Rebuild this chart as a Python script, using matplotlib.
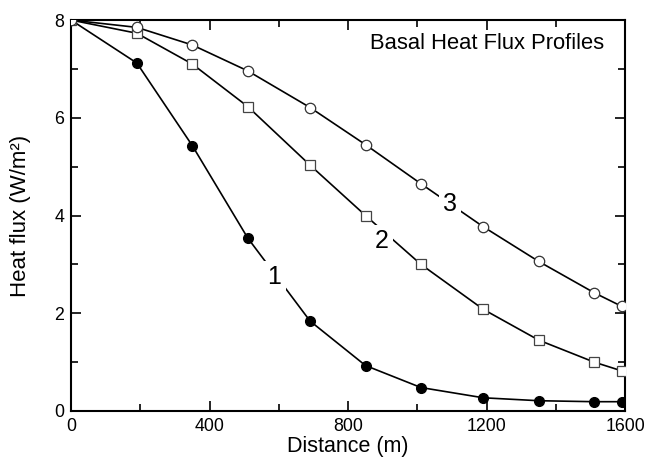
import matplotlib
matplotlib.use("Agg")
import matplotlib.pyplot as plt
from matplotlib.ticker import MultipleLocator

plt.rcParams['font.family'] = ['Liberation Sans', 'DejaVu Sans']

distance = [0, 190, 350, 510, 690, 850, 1010, 1190, 1350, 1510, 1590]
flux1 = [8.0, 7.12, 5.43, 3.54, 1.84, 0.93, 0.48, 0.27, 0.21, 0.19, 0.19]
flux2 = [8.0, 7.73, 7.10, 6.23, 5.03, 4.00, 3.00, 2.08, 1.45, 1.00, 0.82]
flux3 = [8.0, 7.85, 7.49, 6.96, 6.21, 5.45, 4.65, 3.77, 3.06, 2.42, 2.14]
labels = ["1", "2", "3"]
label_pos = [(587, 2.74), (898, 3.48), (1094, 4.23)]

fig = plt.figure(figsize=(6.46, 4.61), dpi=100)
ax = fig.add_axes([0.110, 0.1085, 0.858, 0.848])

ax.plot(distance, flux1, color='black', lw=1.2, marker='o', ms=7,
        mfc='black', mec='black', zorder=3)
ax.plot(distance, flux2, color='black', lw=1.2, marker='s', ms=7,
        mfc='white', mec='#444444', mew=0.9, zorder=3)
ax.plot(distance, flux3, color='black', lw=1.2, marker='o', ms=7.5,
        mfc='white', mec='#333333', mew=0.9, zorder=3)

for lab, (lx, ly) in zip(labels, label_pos):
    ax.text(lx, ly, lab, fontsize=18, ha='center', va='center', zorder=4,
            bbox=dict(facecolor='white', edgecolor='none', pad=3))

ax.text(0.962, 0.94, "Basal Heat Flux Profiles", transform=ax.transAxes,
        ha='right', va='center', fontsize=15.8)

ax.set_xlim(0, 1600)
ax.set_ylim(0, 8)
ax.xaxis.set_major_locator(MultipleLocator(400))
ax.xaxis.set_minor_locator(MultipleLocator(200))
ax.yaxis.set_major_locator(MultipleLocator(2))
ax.yaxis.set_minor_locator(MultipleLocator(1))
ax.tick_params(which='both', direction='in', top=True, right=True,
               width=1.2, labelsize=12.8)
ax.tick_params(which='major', length=7, pad=5)
ax.tick_params(which='minor', length=5)
for s in ax.spines.values():
    s.set_linewidth(1.5)

ax.set_xlabel("Distance (m)", fontsize=15.5, labelpad=1)
ax.set_ylabel("Heat flux (W/m²)", fontsize=16, labelpad=17)

fig.savefig("out.png", dpi=100)
